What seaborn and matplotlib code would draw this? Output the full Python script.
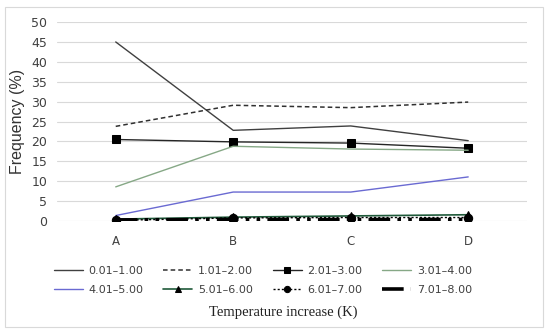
import pandas as pd
import matplotlib.pyplot as plt
import seaborn as sns
from matplotlib.patches import Rectangle

categories = ["A", "B", "C", "D"]
ranges = ["0.01–1.00", "1.01–2.00", "2.01–3.00", "3.01–4.00",
          "4.01–5.00", "5.01–6.00", "6.01–7.00", "7.01–8.00"]
r1 = [45.0, 22.8, 23.9, 20.2]
r2 = [23.8, 29.1, 28.5, 29.9]
r3 = [20.5, 19.9, 19.6, 18.3]
r4 = [8.6, 18.8, 18.1, 17.8]
r5 = [1.4, 7.3, 7.3, 11.1]
r6 = [0.5, 1.0, 1.3, 1.6]
r7 = [0.2, 0.8, 0.9, 0.9]
r8 = [0.3, 0.4, 0.4, 0.4]
values = [r1, r2, r3, r4, r5, r6, r7, r8]

# style per series: colour, linestyle, linewidth, marker
styles = [
    ("#404040", "-", 1.0, None),
    ("#303030", (0, (3, 2)), 1.1, None),
    ("#262626", "-", 1.0, "s"),
    ("#86a886", "-", 1.0, None),
    ("#6a6ad2", "-", 1.0, None),
    ("#1f5a3a", "-", 1.2, "^"),
    ("#000000", (0, (1.5, 1.5)), 1.0, "o"),
    ("#000000", (0, (6, 2, 1, 2, 1, 2)), 2.6, None),
]

sns.set_style("white")
fig = plt.figure(figsize=(5.5, 3.34), dpi=100)
ax = fig.add_axes([0.1036, 0.338, 0.8545, 0.596])

fig.patches.append(Rectangle((0.009, 0.02), 0.978, 0.96, transform=fig.transFigure,
                             fill=False, edgecolor="#d9d9d9", linewidth=0.8))

handles = []
for name, vals, (col, ls, lw, mk) in zip(ranges, values, styles):
    df = pd.DataFrame({"cat": categories, "val": vals})
    sns.lineplot(data=df, x="cat", y="val", ax=ax, color=col, linestyle=ls,
                 linewidth=lw, marker=mk, markersize=6 if mk else 0,
                 markeredgecolor="black", markerfacecolor="black", label=name,
                 legend=False, sort=False)
    handles.append(ax.lines[-1])

ax.set_xlim(-0.5, 3.5)
ax.set_ylim(0, 50)
ax.set_yticks(range(0, 51, 5))
ax.yaxis.grid(True, color="#d9d9d9", linewidth=0.8)
ax.set_axisbelow(True)
for s in ax.spines.values():
    s.set_visible(False)
ax.tick_params(axis="y", labelsize=9, colors="#404040", length=0, pad=7)
ax.tick_params(axis="x", labelsize=8.5, colors="#404040", length=0, pad=10)
ax.set_xlabel("")
ax.set_ylabel("Frequency (%)", family="Liberation Sans", fontsize=11.5, color="#333333")
ax.yaxis.set_label_coords(-0.068, 0.5)

order = [0, 4, 1, 5, 2, 6, 3, 7]
fig.legend([handles[i] for i in order], [ranges[i] for i in order],
           ncol=4, loc="center", bbox_to_anchor=(0.478, 0.16), frameon=False,
           fontsize=8, handlelength=2.6, columnspacing=1.8, handletextpad=0.5,
           labelspacing=0.85, labelcolor="#404040", markerscale=0.75)
fig.text(0.515, 0.065, "Temperature increase (K)", family="Liberation Serif",
         fontsize=10.5, ha="center", va="center", color="#222222")

fig.savefig("out.png", dpi=100)
